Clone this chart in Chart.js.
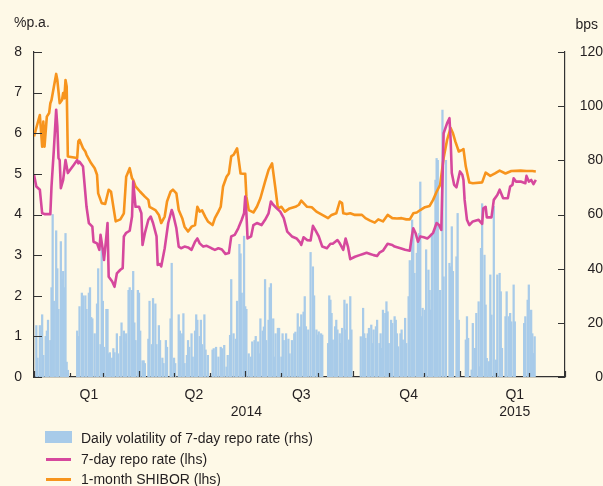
<!DOCTYPE html>
<html>
<head>
<meta charset="utf-8">
<script src="https://cdn.jsdelivr.net/npm/chart.js@4/dist/chart.umd.min.js"></script>
<style>
  html, body { margin:0; padding:0; background:#fef9e7; }
  #wrap { position:relative; width:603px; height:486px; background:#fef9e7; overflow:hidden;
          font-family:"Liberation Sans", Arial, sans-serif; color:#231f20; }
  #c { position:absolute; left:0; top:0; }
  .leg { position:absolute; left:0; font-size:14px; line-height:16px; white-space:nowrap; }
  .leg .sw { position:absolute; left:46px; }
  .leg .tx { position:absolute; left:81px; top:0; }
</style>
</head>
<body>
<div id="wrap">
  <canvas id="c" width="603" height="486"></canvas>
  <div class="leg" style="top:430px;width:400px;height:16px;">
    <div class="sw" style="left:45px;top:1px;width:27px;height:12px;background:#a8cbe9;"></div>
    <div class="tx">Daily volatility of 7-day repo rate (rhs)</div>
  </div>
  <div class="leg" style="top:451px;width:400px;height:16px;">
    <div class="sw" style="top:7px;width:25px;height:3px;background:#d6489d;"></div>
    <div class="tx">7-day repo rate (lhs)</div>
  </div>
  <div class="leg" style="top:471px;width:400px;height:16px;">
    <div class="sw" style="top:7px;width:25px;height:3px;background:#f7941d;"></div>
    <div class="tx">1-month SHIBOR (lhs)</div>
  </div>
</div>
<script>
// x values are days counted from 1 January 2014
const monthStarts = [0,31,59,90,120,151,181,212,243,273,304,334,365,396,424,455];
const quarterStarts = [0,90,181,273,365,455];
const xLabelDays = [47,137,182,229,321,412];
const xLabelTexts = [['Q1'],['Q2'],['','2014'],['Q3'],['Q4'],['Q1','2015']];
const leftTicks = [0,1,2,3,4,5,6,7,8];
const rightTicks = [0,20,40,60,80,100,120];

// 1-month SHIBOR (%p.a.)
const shiborDays = [0,5,7,8,9,11,13,14,15,19,20,22,24,25,26,27,28,29,37,38,39,42,44,45,49,52,54,55,58,61,64,66,68,70,74,77,79,82,84,85,87,91,95,98,99,104,107,109,112,114,117,119,122,124,127,129,132,135,138,140,142,144,147,149,153,155,158,160,162,165,167,169,171,174,175,177,181,182,184,188,191,194,198,201,204,207,209,212,215,219,224,227,229,234,238,242,247,252,255,259,262,264,265,268,271,275,281,284,288,292,295,299,303,307,311,315,319,322,325,328,331,335,339,342,345,348,351,354,357,359,361,364,367,368,370,373,376,384,387,391,395,399,404,409,417,422,427,430];
const shiborVals = [5.92,6.45,5.67,6.29,5.67,6.41,6.50,6.74,6.82,7.46,7.31,6.74,6.82,6.99,6.86,7.31,7.15,5.43,5.39,5.80,5.84,5.63,5.55,5.47,5.26,5.14,4.98,4.52,4.28,4.26,4.61,4.56,4.19,3.83,3.88,4.03,4.93,5.14,4.89,4.85,4.69,4.56,4.44,4.36,4.19,4.11,3.99,3.79,3.95,4.32,4.56,4.61,4.52,4.11,3.91,3.70,3.58,3.70,3.74,4.19,4.07,4.10,3.93,3.83,3.74,3.91,4.07,4.19,4.69,4.93,5.01,5.43,5.47,5.63,5.43,5.01,5.00,4.44,4.11,4.05,4.19,4.40,4.81,5.10,5.26,4.61,4.15,4.19,4.07,4.15,4.19,4.24,4.34,4.19,4.18,4.07,3.99,3.91,3.99,4.03,4.32,4.28,4.03,4.01,4.03,3.99,3.99,3.91,3.85,3.80,3.88,3.83,3.99,3.91,3.90,3.91,3.88,3.88,4.03,4.05,4.11,4.18,4.21,4.36,4.56,4.73,5.39,5.84,6.13,6.00,5.80,5.55,5.59,5.61,5.18,4.79,4.77,4.79,5.03,4.95,5.01,5.08,5.01,5.07,5.08,5.07,5.07,5.06];

// 7-day repo rate (%p.a.)
const repoDays = [0,2,5,7,9,14,15,17,19,20,21,22,23,25,27,29,31,34,37,38,39,42,44,45,47,50,51,54,56,57,59,60,62,63,64,67,69,71,74,76,77,79,82,84,85,87,90,92,93,95,98,100,102,105,106,108,109,112,115,118,119,122,124,126,129,132,135,138,140,142,145,148,152,155,158,161,164,167,169,172,175,178,180,181,182,183,186,188,191,195,198,201,203,205,208,211,214,217,221,225,228,229,231,234,237,239,241,244,247,251,254,256,260,262,265,267,269,271,275,279,282,285,288,291,294,296,299,303,307,309,314,318,322,324,325,327,329,331,334,337,339,342,345,347,349,351,354,356,357,358,360,362,365,367,368,369,371,373,376,381,384,385,387,388,392,394,397,399,402,406,408,410,411,413,417,421,422,424,426,428,430];
const repoVals = [4.98,4.69,4.61,4.03,4.01,4.01,4.69,5.59,6.58,6.17,5.39,5.34,4.65,4.85,5.34,5.02,5.10,5.22,5.34,5.26,5.30,5.18,4.52,4.19,3.79,3.70,3.33,3.29,3.13,3.50,3.13,2.88,3.46,3.79,2.47,2.35,2.22,2.55,2.64,2.68,3.46,3.55,3.60,3.95,4.81,4.19,4.19,4.03,3.25,3.54,3.87,3.95,3.79,3.46,2.76,2.78,2.72,3.17,3.79,4.11,4.03,3.66,3.21,3.17,3.21,3.19,3.13,3.33,3.41,3.29,3.21,3.23,3.17,3.13,3.17,3.14,3.03,3.05,3.46,3.50,3.66,3.87,4.03,4.44,4.03,3.41,3.46,3.74,3.79,3.74,3.87,4.03,4.32,4.24,4.15,4.07,3.91,3.58,3.46,3.41,3.31,3.25,3.44,3.37,3.36,3.72,3.62,3.46,3.21,3.17,3.28,3.28,3.37,3.29,3.13,3.41,3.21,2.90,2.96,3.00,3.03,3.06,3.03,3.00,2.98,3.06,3.11,3.28,3.25,3.21,3.17,3.13,3.11,3.50,3.66,3.54,3.33,3.46,3.44,3.41,3.46,3.55,3.79,3.74,3.62,6.00,6.25,6.37,5.84,5.02,4.73,4.67,5.06,4.98,4.85,4.36,3.87,3.74,3.83,3.87,3.77,4.15,4.19,3.93,3.93,4.36,4.48,4.61,4.40,4.40,4.69,4.73,4.89,4.81,4.81,4.77,4.95,4.81,4.85,4.75,4.85];

// Daily volatility of 7-day repo rate (bps)
const volDays = [2,3,5,7,8,10,11,12,14,15,16,17,19,20,21,23,24,25,26,27,28,29,
  37,38,39,41,42,44,45,47,48,49,50,52,54,55,57,58,59,60,62,63,64,65,67,68,69,71,72,74,75,77,78,79,81,82,84,85,86,87,89,90,91,93,94,95,
  98,99,101,102,104,105,107,108,110,111,113,114,
  117,118,120,121,124,125,127,128,129,131,132,133,135,136,138,139,140,142,143,144,146,147,149,153,154,156,158,160,161,163,165,166,168,169,171,173,174,176,177,178,180,181,182,184,186,187,189,190,192,193,194,196,197,198,199,201,202,203,205,206,207,209,210,212,213,214,216,218,219,221,223,224,226,228,229,231,
  232,233,235,237,239,240,242,243,244,246,247,252,253,254,255,256,258,259,260,262,263,264,266,267,268,270,271,272,
  280,282,283,284,286,287,289,290,291,293,294,296,297,298,299,301,302,303,304,306,307,309,310,311,312,314,315,316,318,319,321,322,324,325,326,328,329,330,331,332,333,335,336,338,339,340,341,343,344,345,346,
  348,350,351,353,356,357,358,359,362,363,364,370,371,372,375,376,378,379,381,382,383,384,386,387,388,390,391,392,394,396,397,399,400,401,404,405,407,408,409,411,412,420,421,423,424,426,427,428,429];
const volVals = [19,7,19,23,8,15,17,21,13.5,33,60,28,54,40,25,50,36,39,33,53,5.5,2.5,
  17,15,26,31,30,30,25,31,33,22,21.5,16,27,40,12,49,28,11,25,25,8.6,9,7,10.5,9,16,8.6,15,20,17,13,16,32,33,32,39,20,13.5,32,31,17,6,6,5,
  14,28,12,29,27,12,19,13.5,7,5,13.5,11,
  21.5,42,7,5,23,17,16,23.4,5,8,13.5,11,16,7.4,17,23,21,15,21,12,23,10,8,10,10.5,11,7.4,11,10.5,11.7,3.7,8,15.4,36,16,14,28,49,45.5,31,52,26,25,8.6,7.4,13,13.5,15,13,8.6,21.5,17,18.5,36,13.5,21,33,34.5,21.5,7.4,16,18,18,7.4,16,13.5,16,14,8.6,13.5,16,16.6,23.4,18.5,23,24,
  29.7,18.6,17.4,46,40.7,30,17.4,15.5,16.7,16,15.5,12.4,30,28.4,23.5,13.7,18.6,21,17.4,16,12.4,18,28.4,17.4,27,13.7,29.7,17.4,
  14.9,25.4,16,14.3,16,18,19.2,12.4,17.4,18.6,21,12.4,16,10.6,24.7,23.5,27.8,24.1,12.4,21,19.8,22.3,21,16,11.2,16,17.4,13.7,21.7,12.4,29.7,43,58,53,38.3,45.7,50.6,53,72,22.3,25.4,24.7,47,39.5,32,24.7,53,54.3,72.7,80.7,80,
  32,98.6,37,80,42,40.7,55.5,39,44.4,60.4,21,13.7,22.3,14.3,2.6,19.8,10.6,23.5,27.8,3.8,47.5,64,45,26.6,6.9,5.7,37.7,22.9,63,6.3,37.7,38.3,31.5,10.6,22.3,31.5,22.3,23.5,20.4,34,20.4,19.8,22.3,28.4,34,24.7,16,8.7,14.9];

const pts = (xs, ys) => xs.map((x, i) => ({ x: x, y: ys[i] }));

const AXIS = '#333333';
const FONT = { family: '"Liberation Sans", Arial, sans-serif', size: 14 };

const decor = {
  id: 'decor',
  afterDraw(chart) {
    const ctx = chart.ctx;
    const xs = chart.scales.x, yl = chart.scales.y, yr = chart.scales.y1;
    const bottom = chart.chartArea.bottom, left = chart.chartArea.left, right = chart.chartArea.right;
    ctx.save();
    ctx.strokeStyle = AXIS;
    ctx.lineWidth = 1.2;
    ctx.beginPath();
    monthStarts.forEach(d => {
      const px = Math.round(xs.getPixelForValue(d)) + 0.5;
      const len = quarterStarts.includes(d) ? 6 : 4;
      ctx.moveTo(px, bottom); ctx.lineTo(px, bottom - len);
    });
    leftTicks.forEach(v => {
      const py = Math.round(yl.getPixelForValue(v)) + 0.5;
      ctx.moveTo(left, py); ctx.lineTo(left + 8, py);
    });
    rightTicks.forEach(v => {
      const py = Math.round(yr.getPixelForValue(v)) + 0.5;
      ctx.moveTo(right - 7, py); ctx.lineTo(right, py);
    });
    ctx.stroke();
    ctx.fillStyle = '#231f20';
    ctx.font = '14px "Liberation Sans", Arial, sans-serif';
    ctx.textBaseline = 'alphabetic';
    ctx.textAlign = 'left';
    ctx.fillText('%p.a.', 14, 27);
    ctx.textAlign = 'right';
    ctx.fillText('bps', 598, 29);
    ctx.restore();
  }
};

new Chart(document.getElementById('c'), {
  type: 'bar',
  data: {
    datasets: [
      {
        type: 'line', label: '7-day repo rate (lhs)', data: pts(repoDays, repoVals),
        yAxisID: 'y', borderColor: '#d6489d', borderWidth: 2.6, pointRadius: 0,
        tension: 0, order: 1, borderJoinStyle: 'round'
      },
      {
        type: 'line', label: '1-month SHIBOR (lhs)', data: pts(shiborDays, shiborVals),
        yAxisID: 'y', borderColor: '#f7941d', borderWidth: 2.6, pointRadius: 0,
        tension: 0, order: 2, borderJoinStyle: 'round'
      },
      {
        type: 'bar', label: 'Daily volatility of 7-day repo rate (rhs)', data: pts(volDays, volVals),
        yAxisID: 'y1', backgroundColor: '#a8cbe9', borderWidth: 0, barThickness: 1.6, order: 3
      }
    ]
  },
  options: {
    responsive: false,
    animation: false,
    events: [],
    layout: { padding: { top: 52, left: 0, right: 0, bottom: 0 } },
    plugins: { legend: { display: false }, tooltip: { enabled: false } },
    scales: {
      x: {
        type: 'linear', position: 'bottom', min: 0, max: 455, offset: false,
        grid: { display: false, drawTicks: false },
        border: { display: true, color: AXIS, width: 1.2 },
        afterBuildTicks: (s) => { s.ticks = xLabelDays.map(v => ({ value: v })); },
        afterFit: (s) => { s.height = 109; },
        ticks: {
          autoSkip: false, maxRotation: 0, minRotation: 0, padding: 10,
          color: '#231f20', font: FONT,
          callback: (v) => { const i = xLabelDays.indexOf(v); return i >= 0 ? xLabelTexts[i] : ''; }
        }
      },
      y: {
        position: 'left', min: 0, max: 8,
        grid: { display: false, drawTicks: false },
        border: { display: true, color: AXIS, width: 1.2 },
        afterFit: (s) => { s.width = 34; },
        afterBuildTicks: (s) => { s.ticks = leftTicks.map(v => ({ value: v })); },
        ticks: { padding: 12, color: '#231f20', font: FONT }
      },
      y1: {
        position: 'right', min: 0, max: 120,
        grid: { display: false, drawTicks: false },
        border: { display: true, color: AXIS, width: 1.2 },
        afterFit: (s) => { s.width = 38; },
        afterBuildTicks: (s) => { s.ticks = rightTicks.map(v => ({ value: v })); },
        ticks: { padding: 11, crossAlign: 'far', color: '#231f20', font: FONT }
      }
    }
  },
  plugins: [decor]
});
</script>
</body>
</html>
